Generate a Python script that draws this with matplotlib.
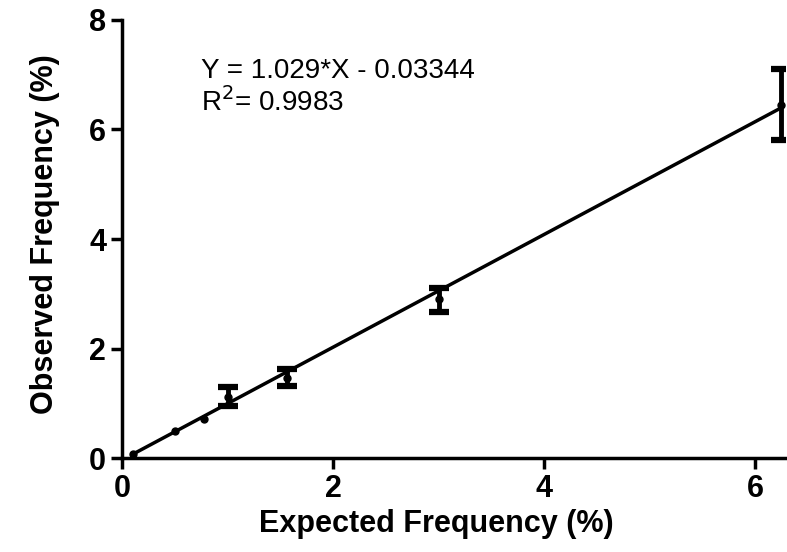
import numpy as np
import matplotlib.pyplot as plt

plt.rcParams['font.family'] = ['Liberation Sans', 'DejaVu Sans']

# expected vs observed frequency (%)
expected = [0.1, 0.5, 0.78, 1.0, 1.56, 3.0, 6.25]
observed = [0.08, 0.49, 0.72, 1.12, 1.47, 2.90, 6.45]
err_low = [0.0, 0.0, 0.0, 0.17, 0.16, 0.23, 0.65]
err_high = [0.0, 0.0, 0.0, 0.17, 0.15, 0.21, 0.65]

slope = 1.029
intercept = -0.03344
r2 = 0.9983

fig = plt.figure(figsize=(7.87, 5.52), dpi=100)
ax = fig.add_axes([0.155, 0.170, 0.842, 0.794])

# points with replicates get error bars, the rest only a marker
has_err = [i for i in range(len(expected)) if err_low[i] > 0]
ax.errorbar([expected[i] for i in has_err], [observed[i] for i in has_err],
            yerr=[[err_low[i] for i in has_err], [err_high[i] for i in has_err]],
            fmt='none', ecolor='black', elinewidth=3.5, capsize=7, capthick=4.5, zorder=3)
ax.plot(expected, observed, 'o', color='black', markersize=5, zorder=4)

xfit = np.array([expected[0], expected[-1]])
ax.plot(xfit, slope * xfit + intercept, color='black', lw=2.5, zorder=2)

ax.text(0.75, 6.93, 'Y = 1.029*X - 0.03344', fontsize=20)
ax.text(0.75, 6.33, r'R$^2$= 0.9983', fontsize=20)

ax.set_xlim(0, 6.28)
ax.set_ylim(0, 8)
ax.set_xticks([0, 2, 4, 6])
ax.set_yticks([0, 2, 4, 6, 8])
for s in ['top', 'right']:
    ax.spines[s].set_visible(False)
for s in ['left', 'bottom']:
    ax.spines[s].set_linewidth(2.5)
ax.tick_params(width=2.5, length=8, labelsize=22)
for lbl in ax.get_xticklabels() + ax.get_yticklabels():
    lbl.set_fontweight('bold')

ax.set_xlabel('Expected Frequency (%)', fontsize=22, fontweight='bold')
ax.set_ylabel('Observed Frequency (%)', fontsize=22, fontweight='bold')
ax.xaxis.set_label_coords(0.474, -0.151)
ax.yaxis.set_label_coords(-0.116, 0.511)
ax.xaxis.label.set_va('center')
ax.yaxis.label.set_va('center')

fig.savefig('out.png', dpi=100)
